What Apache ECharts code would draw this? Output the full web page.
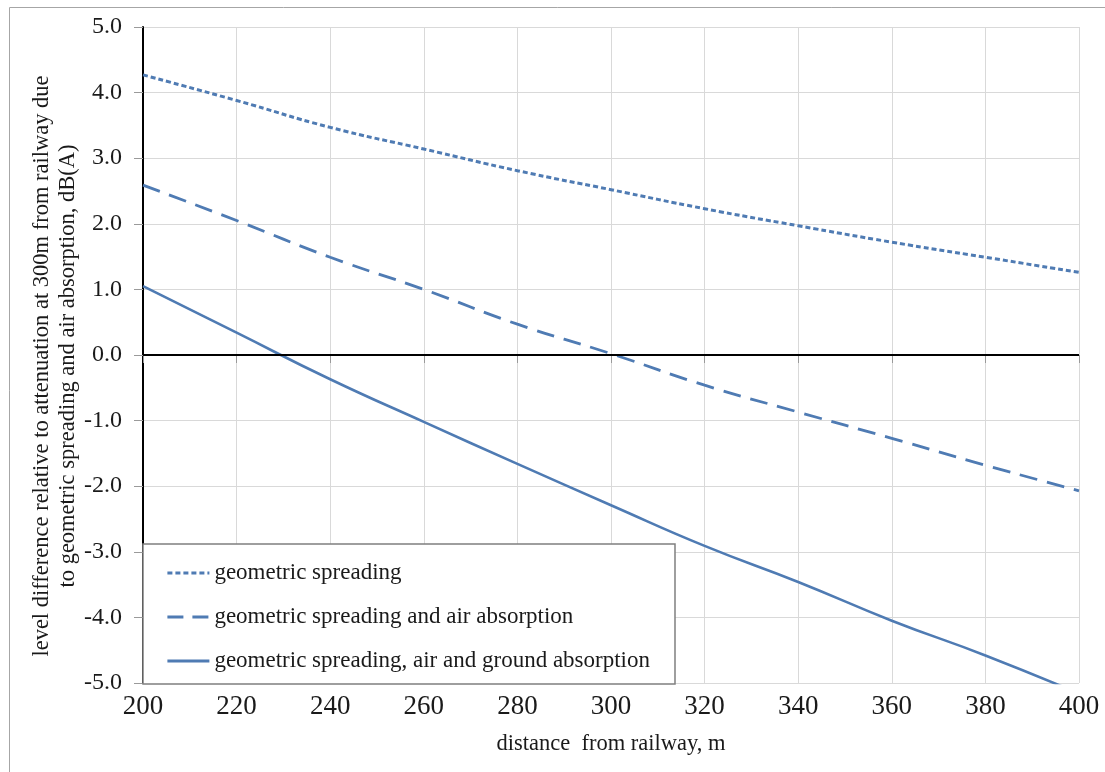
<!DOCTYPE html>
<html>
<head>
<meta charset="utf-8">
<script src="https://cdn.jsdelivr.net/npm/echarts@6/dist/echarts.min.js"></script>
<style>
  html, body { margin: 0; padding: 0; background: #fff; }
  #main { width: 1105px; height: 772px; }
</style>
</head>
<body>
<div id="main"></div>
<script>
  // distance from railway, m
  var distances = [200, 220, 240, 260, 280, 300, 320, 340, 360, 380, 400];
  // level differences, dB(A)
  var geoSpreading = [4.27, 3.88, 3.47, 3.14, 2.81, 2.52, 2.23, 1.97, 1.72, 1.49, 1.26];
  var geoAir = [2.59, 2.05, 1.49, 1.00, 0.47, 0.02, -0.46, -0.87, -1.27, -1.68, -2.07];
  var geoAirGround = [1.05, 0.34, -0.37, -1.02, -1.66, -2.29, -2.91, -3.46, -4.05, -4.58, -5.16];
  var seriesNames = [
    'geometric spreading',
    'geometric spreading and air absorption',
    'geometric spreading, air and ground absorption'
  ];

  var lineColor = '#4f7bb3';
  var serif = '"Liberation Serif", "DejaVu Serif", serif';
  var dotDash = [5, 3];
  var longDash = [18, 10];

  function pairs(ys) {
    return distances.map(function (d, i) { return [d, ys[i]]; });
  }

  var chart = echarts.init(document.getElementById('main'));

  var option = {
    backgroundColor: '#fff',
    animation: false,
    textStyle: { fontFamily: serif },
    graphic: [{
      // thin frame round the picture
      type: 'rect',
      left: 7, top: 5,
      shape: { width: 1110, height: 780 },
      style: { fill: 'none', stroke: '#a6a6a6', lineWidth: 1 },
      silent: true
    }],
    grid: { left: 143, right: 26, top: 27, bottom: 89 },
    legend: {
      orient: 'vertical',
      left: 143,
      top: 544,
      padding: [17, 25, 11, 23],
      itemGap: 20,
      itemWidth: 42,
      itemHeight: 14,
      backgroundColor: '#fff',
      borderColor: '#7f7f7f',
      borderWidth: 1.5,
      borderRadius: 0,
      itemStyle: { opacity: 0 },
      textStyle: { fontFamily: serif, fontSize: 23, lineHeight: 24, color: '#1a1a1a' },
      data: [
        { name: seriesNames[0], itemStyle: { opacity: 0 }, lineStyle: { type: dotDash, width: 2.8, color: lineColor } },
        { name: seriesNames[1], itemStyle: { opacity: 0 }, lineStyle: { type: [16, 9], width: 2.8, color: lineColor } },
        { name: seriesNames[2], itemStyle: { opacity: 0 }, lineStyle: { type: 'solid', width: 2.8, color: lineColor } }
      ]
    },
    xAxis: {
      type: 'value',
      min: 200,
      max: 400,
      interval: 20,
      name: 'distance  from railway, m',
      nameLocation: 'middle',
      nameGap: 50,
      nameTextStyle: { fontFamily: serif, fontSize: 22.5, color: '#1a1a1a' },
      axisLine: { show: true, lineStyle: { color: '#9a9a9a', width: 1 } },
      axisTick: { show: true, inside: false, length: 8, lineStyle: { color: '#9a9a9a' } },
      axisLabel: { fontFamily: serif, fontSize: 27, color: '#1a1a1a', margin: 10 },
      splitLine: { show: true, lineStyle: { color: '#d9d9d9', width: 1 } }
    },
    yAxis: {
      type: 'value',
      min: -5,
      max: 5,
      interval: 1,
      name: 'level difference relative to attenuation at 300m from railway due\nto geometric spreading and air absorption, dB(A)',
      nameLocation: 'middle',
      nameGap: 62,
      nameMoveOverlap: false,
      nameRotate: 90,
      nameTextStyle: {
        fontFamily: serif, fontSize: 22.5, lineHeight: 26, color: '#1a1a1a',
        padding: [0, 22, 0, 0]
      },
      axisLine: { show: true, onZero: false, lineStyle: { color: '#000', width: 2 } },
      axisTick: { show: true, inside: false, length: 9, lineStyle: { color: '#9a9a9a' } },
      axisLabel: {
        fontFamily: serif, fontSize: 24, color: '#1a1a1a', margin: 21,
        formatter: function (v) { return v.toFixed(1); }
      },
      splitLine: { show: true, lineStyle: { color: '#d9d9d9', width: 1 } }
    },
    series: [
      {
        name: seriesNames[0],
        type: 'line',
        data: pairs(geoSpreading),
        smooth: true,
        symbol: 'none',
        lineStyle: { color: lineColor, width: 3, type: dotDash },
        itemStyle: { color: lineColor },
        markLine: {
          silent: true,
          symbol: 'none',
          label: { show: false },
          lineStyle: { color: '#000', width: 2, type: 'solid' },
          data: [{ yAxis: 0 }]
        }
      },
      {
        name: seriesNames[1],
        type: 'line',
        data: pairs(geoAir),
        smooth: true,
        symbol: 'none',
        lineStyle: { color: lineColor, width: 2.8, type: longDash },
        itemStyle: { color: lineColor }
      },
      {
        name: seriesNames[2],
        type: 'line',
        data: pairs(geoAirGround),
        smooth: true,
        symbol: 'none',
        clip: true,
        lineStyle: { color: lineColor, width: 2.6, type: 'solid' },
        itemStyle: { color: lineColor }
      }
    ]
  };

  chart.setOption(option);
</script>
</body>
</html>
